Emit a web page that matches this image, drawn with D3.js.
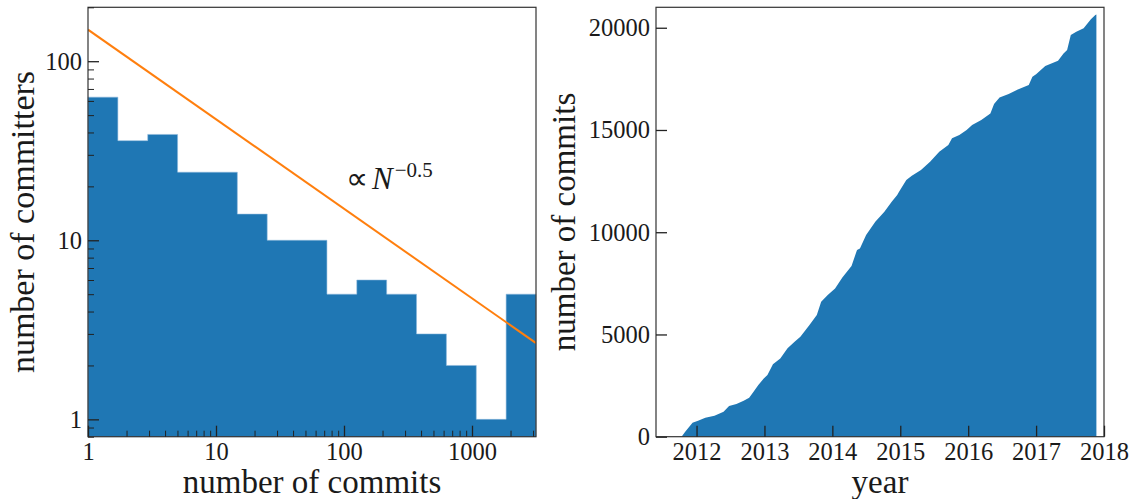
<!DOCTYPE html>
<html><head><meta charset="utf-8">
<script src="https://cdn.jsdelivr.net/npm/d3@7"></script>
<style>
body{margin:0;background:#fff}
svg{display:block}
text{font-family:"Liberation Serif","Times New Roman",serif;fill:#1a1a1a}
</style>
</head><body>
<svg id="c" width="1134" height="499"></svg>
<script>
// ---- data: left panel (histogram of commits per committer, log bins) ----
const binEdges = [1, 1.7113, 2.9286, 5.0119, 8.5770, 14.678, 25.119, 42.987, 73.564,
                  125.89, 215.44, 368.69, 630.96, 1079.8, 1847.8, 3162.3];
const committerCounts = [63, 36, 39, 24, 24, 14, 10, 10, 5, 6, 5, 3, 2, 1, 5];
const powerLawPoints = [[1, 150], [3162.3, 2.667]];
const xTickLabelsL = ["1", "10", "100", "1000"];
const yTickLabelsL = ["1", "10", "100"];

// ---- data: right panel (cumulative number of commits) ----
const years = [2011.607, 2011.779, 2011.833, 2011.941, 2012.022, 2012.129, 2012.264, 2012.398,
  2012.479, 2012.587, 2012.694, 2012.775, 2012.829, 2012.910, 2012.990, 2013.044, 2013.125,
  2013.233, 2013.340, 2013.448, 2013.529, 2013.663, 2013.771, 2013.835, 2013.932, 2014.040,
  2014.147, 2014.282, 2014.363, 2014.406, 2014.497, 2014.632, 2014.766, 2014.874, 2014.955,
  2014.982, 2015.089, 2015.170, 2015.305, 2015.439, 2015.574, 2015.708, 2015.762, 2015.870,
  2015.977, 2016.058, 2016.193, 2016.327, 2016.381, 2016.462, 2016.596, 2016.731, 2016.892,
  2016.946, 2017.000, 2017.135, 2017.323, 2017.404, 2017.457, 2017.511, 2017.592, 2017.700,
  2017.807, 2017.872, 2017.888];
const commits = [0, 0, 245, 685, 780, 930, 1030, 1220,
  1500, 1600, 1760, 1910, 2150, 2530, 2850, 3015, 3540,
  3830, 4320, 4650, 4890, 5460, 5950, 6600, 6930, 7250,
  7790, 8350, 9130, 9210, 9860, 10510, 11000, 11490, 11820,
  11980, 12550, 12760, 13040, 13450, 13940, 14260, 14590, 14750,
  15000, 15240, 15485, 15810, 16270, 16590, 16760, 16985, 17200,
  17600, 17730, 18130, 18390, 18745, 18910, 19640, 19800, 19970,
  20410, 20620, 20650];
const xTickYears = [2012, 2013, 2014, 2015, 2016, 2017, 2018];
const yTickCommits = [0, 5000, 10000, 15000, 20000];

const BLUE = "#1f77b4", ORANGE = "#ff7f0e", INK = "#222";
const svg = d3.select("#c");
const L = {x0: 88, x1: 536, y0: 7.3, y1: 436.7};
const R = {x0: 656, x1: 1104, y0: 7.3, y1: 436.7};
const TICK_FS = 24.5, LABEL_FS = 33;
const MAJ = 11, MIN = 6, PAD = 6;

function styleAxis(g, width) {
  g.select(".domain").remove();
  g.selectAll(".tick line").attr("stroke", INK).attr("stroke-width", width);
  g.selectAll(".tick text").style("font-size", TICK_FS + "px")
    .style("font-family", "'Liberation Serif','Times New Roman',serif").attr("fill", "#1a1a1a");
}

// ================= LEFT PANEL =================
const xL = d3.scaleLog().domain([binEdges[0], binEdges[binEdges.length - 1]]).range([L.x0, L.x1]);
const yL = d3.scaleLog().domain([0.8, 200]).range([L.y1, L.y0]);

svg.append("defs").append("clipPath").attr("id", "clipL")
  .append("rect").attr("x", L.x0).attr("y", L.y0).attr("width", L.x1 - L.x0).attr("height", L.y1 - L.y0);

const gL = svg.append("g");
const stepData = binEdges.map((e, i) => [e, committerCounts[Math.min(i, committerCounts.length - 1)]]);
gL.append("path").datum(stepData)
  .attr("d", d3.area().curve(d3.curveStepAfter).x(d => xL(d[0])).y0(L.y1).y1(d => yL(d[1])))
  .attr("fill", BLUE).attr("stroke", "#8db9dc").attr("stroke-width", 0.8).attr("stroke-opacity", 0.7);

gL.append("path").datum(powerLawPoints)
  .attr("clip-path", "url(#clipL)")
  .attr("d", d3.line().x(d => xL(d[0])).y(d => yL(d[1])))
  .attr("fill", "none").attr("stroke", ORANGE).attr("stroke-width", 2);

gL.append("rect").attr("x", L.x0).attr("y", L.y0).attr("width", L.x1 - L.x0).attr("height", L.y1 - L.y0)
  .attr("fill", "none").attr("stroke", "#333").attr("stroke-width", 1.2);

const isPow10 = v => Math.abs(Math.log10(v) - Math.round(Math.log10(v))) < 1e-9;
const xMajorL = xTickLabelsL.map(Number);
const xMinorL = xL.ticks().filter(v => !isPow10(v));
const yMajorL = yTickLabelsL.map(Number);
const yMinorL = yL.ticks().filter(v => !isPow10(v));

gL.append("g").attr("transform", `translate(0,${L.y1})`)
  .call(d3.axisBottom(xL).tickValues(xMinorL).tickSize(-MIN).tickFormat(""))
  .call(g => styleAxis(g, 1));
gL.append("g").attr("transform", `translate(0,${L.y1})`)
  .call(d3.axisBottom(xL).tickValues(xMajorL).tickSize(-MAJ).tickPadding(PAD)
    .tickFormat((d, i) => xTickLabelsL[i]))
  .call(g => styleAxis(g, 1.3));
gL.append("g").attr("transform", `translate(${L.x0},0)`)
  .call(d3.axisLeft(yL).tickValues(yMinorL).tickSize(-MIN).tickFormat(""))
  .call(g => styleAxis(g, 1));
gL.append("g").attr("transform", `translate(${L.x0},0)`)
  .call(d3.axisLeft(yL).tickValues(yMajorL).tickSize(-MAJ).tickPadding(PAD)
    .tickFormat((d, i) => yTickLabelsL[i]))
  .call(g => styleAxis(g, 1.3));

// annotation
const ann = gL.append("text").attr("x", 346).attr("y", 189).style("font-size", "31px");
ann.append("tspan").text("\u221D");
ann.append("tspan").attr("dx", 4).style("font-style", "italic").text("N");
ann.append("tspan").attr("dy", -12).attr("dx", 2).style("font-size", "21px").text("\u22120.5");

gL.append("text").attr("text-anchor", "middle")
  .attr("transform", `translate(34,${(L.y0 + L.y1) / 2}) rotate(-90)`)
  .style("font-size", (LABEL_FS + 1) + "px").text("number of committers");
gL.append("text").attr("text-anchor", "middle")
  .attr("x", (L.x0 + L.x1) / 2).attr("y", 493)
  .style("font-size", LABEL_FS + "px").text("number of commits");

// ================= RIGHT PANEL =================
const xR = d3.scaleLinear().domain([2011.403, 2018]).range([R.x0, R.x1]);
const yR = d3.scaleLinear().domain([0, 21000]).range([R.y1, R.y0]);
const series = years.map((y, i) => [y, commits[i]]);

const gR = svg.append("g");
gR.append("path").datum(series)
  .attr("d", d3.area().x(d => xR(d[0])).y0(yR(0)).y1(d => yR(d[1])))
  .attr("fill", BLUE);

gR.append("rect").attr("x", R.x0).attr("y", R.y0).attr("width", R.x1 - R.x0).attr("height", R.y1 - R.y0)
  .attr("fill", "none").attr("stroke", "#333").attr("stroke-width", 1.2);

gR.append("g").attr("transform", `translate(0,${R.y1})`)
  .call(d3.axisBottom(xR).tickValues(xTickYears).tickSize(-MAJ).tickPadding(PAD).tickFormat(d3.format("d")))
  .call(g => styleAxis(g, 1.3));
gR.append("g").attr("transform", `translate(${R.x0},0)`)
  .call(d3.axisLeft(yR).tickValues(yTickCommits).tickSize(-MAJ).tickPadding(PAD).tickFormat(d3.format("d")))
  .call(g => styleAxis(g, 1.3));

gR.append("text").attr("text-anchor", "middle")
  .attr("transform", `translate(575,${(R.y0 + R.y1) / 2}) rotate(-90)`)
  .style("font-size", LABEL_FS + "px").text("number of commits");
gR.append("text").attr("text-anchor", "middle")
  .attr("x", (R.x0 + R.x1) / 2).attr("y", 493)
  .style("font-size", LABEL_FS + "px").text("year");
</script>
</body></html>
